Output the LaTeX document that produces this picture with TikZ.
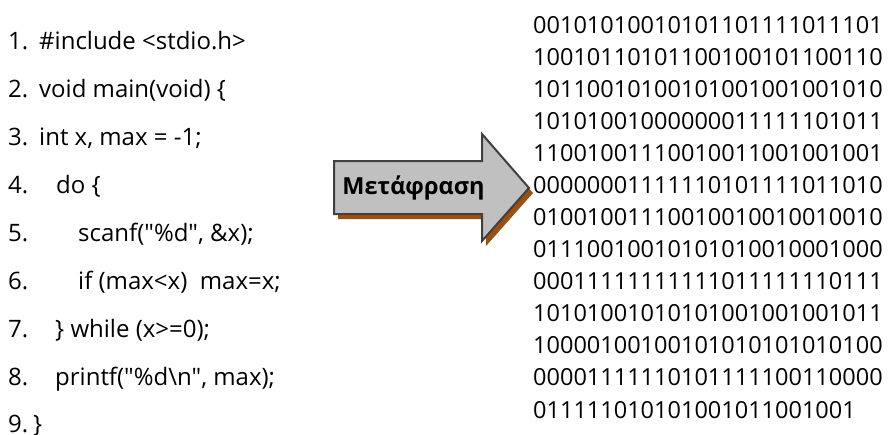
\documentclass[tikz,border=0pt]{standalone}
\usepackage{fontspec}
\setmainfont{Open Sans}
% plain family: straight quotes stay straight
\newfontfamily\codefont{Open Sans}
\newfontfamily\labelfont{Open Sans}
\definecolor{arrowfill}{HTML}{C0C0C0}
\definecolor{arrowedge}{HTML}{404040}
\definecolor{arrowshade}{HTML}{9C4F0F}
\begin{document}
\begin{tikzpicture}[x=1pt,y=-1pt,
  codetext/.style={anchor=base west,inner sep=0pt,font=\codefont\fontsize{24}{24}\selectfont},
  bintext/.style={anchor=base west,inner sep=0pt,font=\codefont\fontsize{23.5}{23.5}\selectfont},
  arrowbody/.style={fill=arrowfill,draw=arrowedge,line width=2pt,line join=miter},
  arrowshadow/.style={fill=arrowshade},
  arrowlabel/.style={anchor=base,inner sep=0pt,font=\labelfont\bfseries\fontsize{23.5}{23.5}\selectfont}]
\useasboundingbox (0,0) rectangle (889,434);

% source listing: line numbers and code
\foreach \k/\t in {1/1.,2/2.,3/3.,4/4.,5/5.,6/6.,7/7.,8/8.}
  \node[codetext] (n\k) at (8,{49+48*(\k-1)}) {\t};
\node[codetext] (n9) at (8,432) {9.};
\node[codetext] (c1) at (39,49)  {\#include <stdio.h>};
\node[codetext] (c2) at (39,97)  {void main(void) \{};
\node[codetext] (c3) at (39,145) {int x, max = -1;};
\node[codetext] (c4) at (56,193) {do \{};
\node[codetext] (c5) at (78,241) {scanf("\%d", \&x);};
\node[codetext] (c6) at (78,289) {if (max<x)\ \ max=x;};
\node[codetext] (c7) at (55,337) {\} while (x>=0);};
\node[codetext] (c8) at (55,385) {printf("\%d\textbackslash n", max);};
\node[codetext] (c9) at (33,432) {\}};

% translation arrow with its shadow
\fill[arrowshadow] (338,166) -- (486,166) -- (486,139) -- (533,193) -- (486,246) -- (486,219) -- (338,219) -- cycle;
\draw[arrowbody] (334,161) -- (482,161) -- (482,134) -- (529,188) -- (482,241) -- (482,214) -- (334,214) -- cycle;
\node[arrowlabel] (lbl) at (413.5,194) {Μετάφραση};

% machine code
\foreach \k/\b in {1/00101010010101101111011101,
                   2/10010110101100100101100110,
                   3/10110010100101001001001010,
                   4/10101001000000011111101011,
                   5/11001001110010011001001001,
                   6/00000001111110101111011010,
                   7/01001001110010010010010010,
                   8/01110010010101010010001000,
                   9/00011111111111011111110111,
                   10/10101001010101001001001011,
                   11/10000100100101010101010100,
                   12/00001111110101111100110000,
                   13/011111010101001011001001}
  \node[bintext] (b\k) at (533,{33.3+32.06*(\k-1)}) {\b};
\end{tikzpicture}
\end{document}
